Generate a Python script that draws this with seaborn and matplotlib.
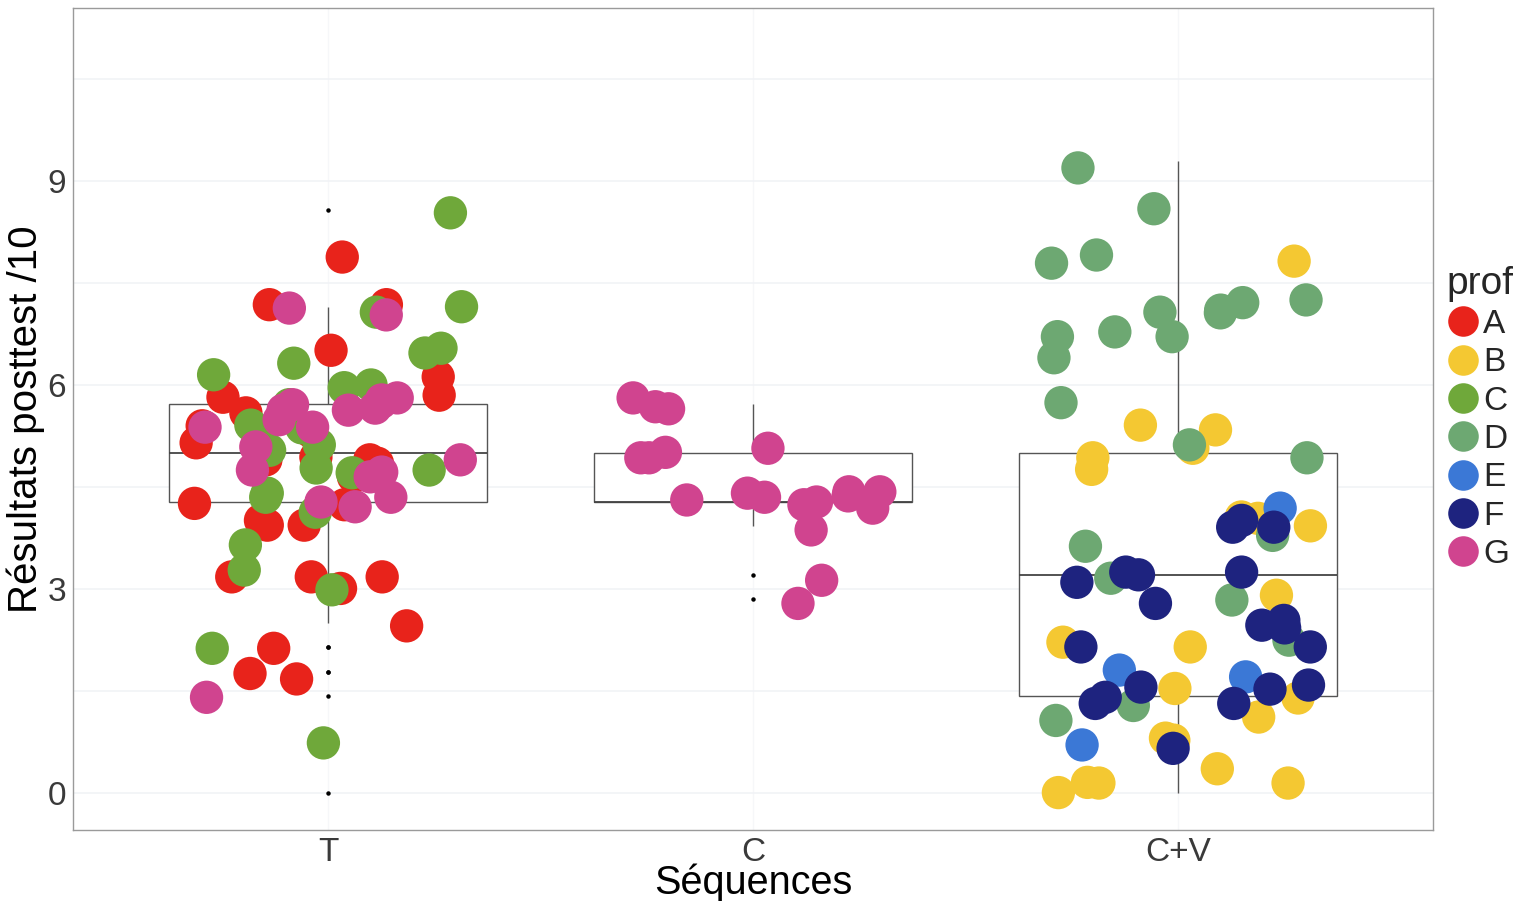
import numpy as np
import pandas as pd
import matplotlib
matplotlib.use("Agg")
import matplotlib.pyplot as plt
import seaborn as sns
from matplotlib.lines import Line2D

# ---------------- data ----------------
categories = ["T", "C", "C+V"]
profs = ["A", "B", "C", "D", "E", "F", "G"]
prof_colors = ["#E8231B", "#F4C832", "#6FA83A", "#6DA872", "#3B78D6", "#1E237F", "#D0448F"]

# Séquence T
T_A = [7.88, 7.18, 7.18, 6.51, 6.12, 5.85, 5.82, 5.59, 5.40, 5.31, 5.15, 4.94, 4.90,
       4.90, 4.85, 4.65, 4.26, 4.24, 4.01, 3.94, 3.94, 3.18, 3.18, 3.18, 3.01, 2.46,
       2.13, 1.76, 1.68]
T_C = [8.53, 7.15, 7.07, 6.54, 6.47, 6.32, 6.15, 6.00, 5.96, 5.71, 5.41, 5.37, 5.12,
       5.12, 5.04, 4.78, 4.75, 4.71, 4.41, 4.35, 4.13, 3.65, 3.28, 2.99, 2.13, 0.74]
T_G = [7.13, 7.03, 5.81, 5.78, 5.74, 5.71, 5.66, 5.63, 5.63, 5.49, 5.38, 5.38, 5.09,
       4.90, 4.75, 4.72, 4.65, 4.35, 4.28, 4.21, 1.41]
T_outlier_only = [0.0]   # shown only as a boxplot outlier dot, no coloured point
# Séquence C
C_G = [5.81, 5.65, 5.68, 4.93, 4.93, 5.07, 5.01, 4.43, 4.24, 4.35, 3.87, 4.31, 4.19,
       4.37, 4.28, 4.41, 4.43, 3.13, 2.79]
# Séquence C+V
CV_B = [7.82, 5.34, 5.41, 5.07, 4.93, 4.76, 4.06, 4.04, 3.93, 2.91, 2.15, 2.22, 1.54,
        1.40, 1.12, 0.78, 0.81, 0.15, 0.16, 0.01, 0.15, 0.36]
CV_D = [9.19, 8.59, 7.79, 7.91, 7.21, 7.06, 6.71, 6.78, 7.10, 7.25, 7.07, 6.71, 6.40,
        5.74, 4.93, 5.12, 3.79, 3.63, 3.16, 2.84, 2.25, 1.29, 1.07]
CV_E = [4.19, 1.81, 1.71, 0.71]
CV_F = [3.91, 3.91, 4.01, 3.21, 3.25, 3.10, 3.25, 2.79, 2.54, 2.15, 2.43, 2.47, 2.15,
        1.56, 1.32, 1.41, 1.53, 1.59, 1.32, 0.66]

score_step = 10 / 28  # scores are half points out of 14, rescaled to /10

groups = [("T", "A", T_A), ("T", "C", T_C), ("T", "G", T_G), ("T", None, T_outlier_only),
          ("C", "G", C_G),
          ("C+V", "B", CV_B), ("C+V", "D", CV_D), ("C+V", "E", CV_E), ("C+V", "F", CV_F)]
rows = []
for seq, prof, vals in groups:
    for v in vals:
        rows.append({"seq": seq, "prof": prof, "y": v})
df = pd.DataFrame(rows)
df["score"] = np.round(df["y"] / score_step) * score_step
pts = df[df["prof"].notna()]

# ---------------- plot ----------------
W, H, DPI = 1527, 901, 100
fig = plt.figure(figsize=(W / DPI, H / DPI), dpi=DPI)
sns.set_style("white")
plt.rcParams['font.family'] = ['Liberation Sans', 'DejaVu Sans']

ax = fig.add_axes([73 / W, 1 - 830 / H, (1433 - 73) / W, (830 - 8) / H])

gray = "#555555"
sns.boxplot(data=df, x="seq", y="score", order=categories, ax=ax, width=0.75,
            whis=1.49, color="white",
            boxprops=dict(facecolor="white", edgecolor=gray, linewidth=1.0),
            whiskerprops=dict(color=gray, linewidth=1.0),
            capprops=dict(linewidth=0),
            medianprops=dict(color="#444444", linewidth=1.3),
            flierprops=dict(marker="o", markersize=2.2, markerfacecolor="black",
                            markeredgecolor="black"),
            zorder=1)

np.random.seed(3)
sns.stripplot(data=pts, x="seq", y="y", order=categories, hue="prof", hue_order=profs,
              palette=prof_colors, jitter=0.33, size=24, linewidth=0, alpha=1.0,
              ax=ax, zorder=3, legend=False)

ax.set_xlim(-0.6, 2.6)
ax.set_ylim(-0.54, 11.54)
ax.set_yticks([0, 3, 6, 9])
ax.set_yticks([1.5, 4.5, 7.5, 10.5], minor=True)
ax.grid(True, which="both", axis="y", color="#f1f3f6", linewidth=1.2, zorder=0)
ax.grid(True, which="major", axis="x", color="#f6f7f9", linewidth=1.0, zorder=0)
ax.set_axisbelow(True)

for s in ax.spines.values():
    s.set_color("#9a9a9a")
    s.set_linewidth(1.0)
ax.tick_params(axis="both", which="major", length=3, width=0.8, color="#888888",
               labelsize=24, labelcolor="#3a3a3a", pad=2)
ax.tick_params(axis="both", which="minor", length=0)

ax.set_xlabel("Séquences", fontsize=28.5, color="black", labelpad=-3)
ax.set_ylabel("Résultats posttest /10", fontsize=29, color="black", labelpad=2)

handles = [Line2D([0], [0], marker="o", linestyle="", markersize=22,
                  markerfacecolor=c, markeredgewidth=0) for c in prof_colors]
leg = fig.legend(handles, profs, title="prof", loc="upper left",
                 bbox_to_anchor=(1440 / W, 1 - 259 / H), frameon=False,
                 fontsize=24, title_fontsize=28, handletextpad=0.1,
                 labelspacing=0.22, borderaxespad=0, handlelength=1.0,
                 borderpad=0.2)
leg._legend_box.align = "left"

fig.savefig("out.png", dpi=DPI)
